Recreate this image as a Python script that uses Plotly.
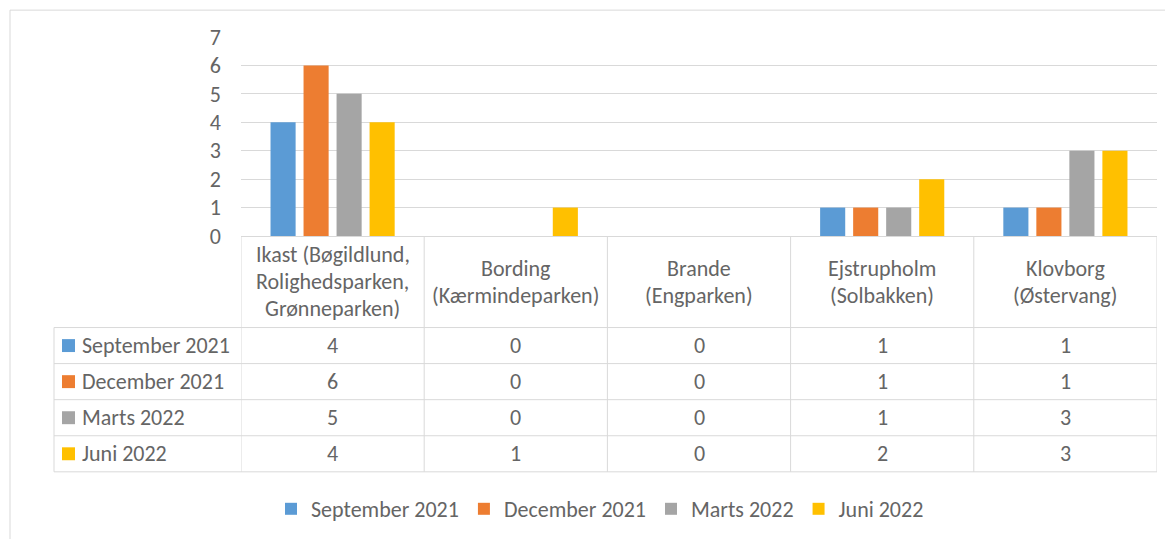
import plotly.graph_objects as go

# ---------------- data ----------------
categories = [
    "Ikast (Bøgildlund, Rolighedsparken, Grønneparken)",
    "Bording (Kærmindeparken)",
    "Brande (Engparken)",
    "Ejstrupholm (Solbakken)",
    "Klovborg (Østervang)",
]
category_lines = [
    ["Ikast (Bøgildlund,", "Rolighedsparken,", "Grønneparken)"],
    ["Bording", "(Kærmindeparken)"],
    ["Brande", "(Engparken)"],
    ["Ejstrupholm", "(Solbakken)"],
    ["Klovborg", "(Østervang)"],
]
series_names = ["September 2021", "December 2021", "Marts 2022", "Juni 2022"]
september_2021 = [4, 0, 0, 1, 1]
december_2021 = [6, 0, 0, 1, 1]
marts_2022 = [5, 0, 0, 1, 3]
juni_2022 = [4, 1, 0, 2, 3]
series_values = [september_2021, december_2021, marts_2022, juni_2022]
y_ticks = [0, 1, 2, 3, 4, 5, 6, 7]

# ---------------- styles ----------------
colors = ["#5B9BD5", "#ED7D31", "#A5A5A5", "#FFC000"]
FONT = "Calibri, Carlito, 'Open Sans', sans-serif"
TXT = "#656565"
LINE = "#D9D9D9"

OFF = 8                      # page body margin
SW, SH = 1173, 539           # screenshot size
W, H = SW - OFF, SH - OFF    # figure size
L, R, T, B = 241, 1157, 37, 237  # plot area, in screenshot pixels


def px(xp):
    return (xp - L) / (R - L)


def py(yp):
    return (B - yp) / (B - T)


fig = go.Figure()
xs = list(range(len(categories)))
for name, vals, col in zip(series_names, series_values, colors):
    fig.add_trace(go.Bar(x=xs, y=vals, name=name, marker=dict(color=col, line=dict(width=0)),
                         hoverinfo="skip"))

shapes = []
annotations = []

# outer chart border
shapes.append(dict(type="rect", xref="paper", yref="paper", x0=px(10), x1=px(1190),
                   y0=py(10), y1=py(560), line=dict(color="#D9D9D9", width=1)))

# table geometry
header_bottom = 329
row_h = (474 - 329) / 4
row_lines = [header_bottom + i * row_h for i in range(5)]
table_left = 54

for i in range(len(categories) + 1):
    shapes.append(dict(type="line", xref="x", yref="paper", x0=i - 0.5, x1=i - 0.5,
                       y0=py(B), y1=py(row_lines[-1]), line=dict(color=LINE, width=1)))
shapes.append(dict(type="line", xref="paper", yref="paper", x0=px(table_left), x1=px(table_left),
                   y0=py(header_bottom), y1=py(row_lines[-1]), line=dict(color=LINE, width=1)))
for yl in row_lines:
    shapes.append(dict(type="line", xref="paper", yref="paper", x0=px(table_left), x1=px(R),
                       y0=py(yl), y1=py(yl), line=dict(color=LINE, width=1)))

TS = 22
line_gap = 27
for i, lines in enumerate(category_lines):
    n = len(lines)
    center = (B + header_bottom) / 2
    for j, t in enumerate(lines):
        yc = center + (j - (n - 1) / 2) * line_gap
        annotations.append(dict(x=i, y=py(yc), xref="x", yref="paper", text=t, showarrow=False,
                                xanchor="center", yanchor="middle",
                                font=dict(family=FONT, size=TS, color=TXT)))

for r, (name, vals, col) in enumerate(zip(series_names, series_values, colors)):
    yc = header_bottom + (r + 0.5) * row_h
    shapes.append(dict(type="rect", xref="paper", yref="paper", x0=px(62), x1=px(75),
                       y0=py(yc - 6.5), y1=py(yc + 6.5), fillcolor=col, line=dict(width=0)))
    annotations.append(dict(x=px(80), y=py(yc), xref="paper", yref="paper", text=name,
                            showarrow=False, xanchor="left", yanchor="middle",
                            font=dict(family=FONT, size=TS, color=TXT)))
    for i, v in enumerate(vals):
        annotations.append(dict(x=i, y=py(yc), xref="x", yref="paper", text=str(v),
                                showarrow=False, xanchor="center", yanchor="middle",
                                font=dict(family=FONT, size=TS, color=TXT)))

fig.update_layout(
    width=W, height=H,
    margin=dict(l=L - OFF, r=W - (R - OFF), t=T - OFF, b=H - (B - OFF), pad=0),
    paper_bgcolor="white", plot_bgcolor="white",
    barmode="group", bargap=0.279, bargroupgap=0.24,
    font=dict(family=FONT, color=TXT, size=TS),
    shapes=shapes, annotations=annotations,
    showlegend=True,
    legend=dict(orientation="h", x=px(600), xanchor="center", y=py(509), yanchor="middle",
                font=dict(family=FONT, size=TS, color=TXT), itemwidth=30,
                bgcolor="rgba(0,0,0,0)"),
    hovermode=False,
)
fig.update_xaxes(range=[-0.5, len(categories) - 0.5], showticklabels=False, showgrid=False,
                 zeroline=False, showline=False, fixedrange=True)
fig.update_yaxes(range=[0, 7], tickvals=y_ticks, showgrid=True, gridcolor=LINE, gridwidth=1,
                 zeroline=True, zerolinecolor=LINE, zerolinewidth=1, showline=False,
                 ticklabelstandoff=19, tickfont=dict(family=FONT, size=TS, color=TXT),
                 fixedrange=True)

fig.write_html("out.html")
